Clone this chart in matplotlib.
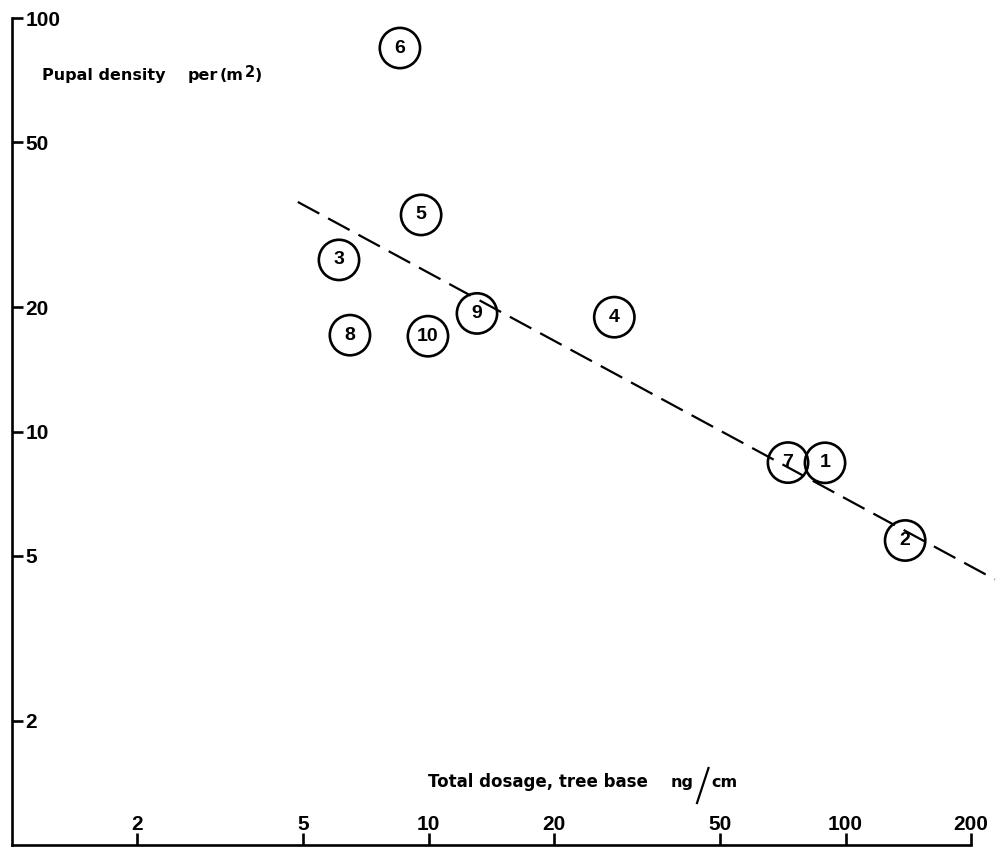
import math
import matplotlib
matplotlib.use("Agg")
import matplotlib.pyplot as plt
from matplotlib.lines import Line2D
from matplotlib.ticker import FixedLocator, FixedFormatter, NullLocator

plt.rcParams['font.family'] = ['Liberation Sans', 'DejaVu Sans']

# Plot numbers with dosage (ng/cm) and pupal density (per m^2)
plot_ids = ["1", "2", "3", "4", "5", "6", "7", "8", "9", "10"]
dosage = [89.3, 139, 6.1, 27.9, 9.6, 8.54, 72.8, 6.48, 13.07, 9.97]
density = [8.4, 5.45, 26.0, 18.9, 33.4, 84.6, 8.41, 17.1, 19.3, 17.0]

# Regression line end points
fit_x = [4.86, 228]
fit_y = [35.9, 4.39]

x_ticks = [2, 5, 10, 20, 50, 100, 200]
y_ticks = [2, 5, 10, 20, 50, 100]

W, H = 1002, 848
fig = plt.figure(figsize=(W / 100, H / 100), dpi=100)

left_px, bottom_px, top_px = 11.5, 845, 18
px_per_dec_x = 417
x_max = 235
right_px = left_px + px_per_dec_x * math.log10(x_max)
ax = fig.add_axes([left_px / W, (H - bottom_px) / H,
                   (right_px - left_px) / W, (bottom_px - top_px) / H])
ax.set_xscale('log')
ax.set_yscale('log')
ax.set_xlim(1, x_max)
ax.set_ylim(1, 100)

for s in ['top', 'right']:
    ax.spines[s].set_visible(False)
for s in ['left', 'bottom']:
    ax.spines[s].set_linewidth(1.9)
    ax.spines[s].set_capstyle('projecting')
ax.spines['bottom'].set_bounds(1, 200)

ax.xaxis.set_major_locator(FixedLocator(x_ticks))
ax.xaxis.set_major_formatter(FixedFormatter([str(v) for v in x_ticks]))
ax.xaxis.set_minor_locator(NullLocator())
ax.yaxis.set_major_locator(FixedLocator(y_ticks))
ax.yaxis.set_major_formatter(FixedFormatter([str(v) for v in y_ticks]))
ax.yaxis.set_minor_locator(NullLocator())

ax.tick_params(axis='x', direction='in', length=8.5, width=1.9, pad=-8,
               labelsize=15, colors='black')
ax.tick_params(axis='y', direction='in', length=8, width=1.9, pad=-10,
               labelsize=15, colors='black')
for lbl in ax.get_xticklabels():
    lbl.set_verticalalignment('bottom')
    lbl.set_fontweight('bold')
for lbl in ax.get_yticklabels():
    lbl.set_horizontalalignment('left')
    lbl.set_fontweight('bold')

# Dashed regression line
ax.plot(fit_x, fit_y, color='black', lw=1.6, dashes=(11, 4.5), clip_on=False,
        zorder=2)

# Circled plot numbers
ax.scatter(dosage, density, s=29 ** 2, facecolors='none', edgecolors='black',
           linewidths=1.9, zorder=3, clip_on=False)
for pid, xv, yv in zip(plot_ids, dosage, density):
    ax.text(xv, yv, pid, ha='center', va='center', fontsize=14,
            fontweight='bold', zorder=4)

# Axis titles, placed word by word in pixel units
label_font = dict(family='DejaVu Sans', fontweight='bold', fontsize=11.5)


def put(x_px, y_px, s, **kw):
    fig.text(x_px / W, 1 - y_px / H, s, ha='left', va='baseline', **kw)


put(42, 80, "Pupal density", **label_font)
put(188, 80, "per", **label_font)
put(220, 80, "(m", **label_font)
put(245, 77, "2", family='DejaVu Sans', fontweight='bold', fontsize=10.5)
put(255, 80, ")", **label_font)

put(428, 787, "Total dosage, tree base", family='DejaVu Sans',
    fontweight='bold', fontsize=12)
put(671, 787, "ng", **label_font)
fig.add_artist(Line2D([697 / W, 708.5 / W], [1 - 803 / H, 1 - 768 / H],
                      color='black', lw=1.6, transform=fig.transFigure))
put(711, 787, "cm", **label_font)

fig.savefig("out.png", dpi=100)
